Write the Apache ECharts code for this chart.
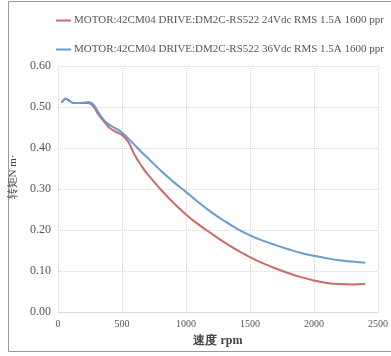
<!DOCTYPE html>
<html><head><meta charset="utf-8">
<script src="https://cdn.jsdelivr.net/npm/echarts@6/dist/echarts.min.js"></script>
<style>html,body{margin:0;padding:0;background:#fff}#c{width:391px;height:356px}</style>
</head><body><div id="c"></div>
<script>
const rpm = [30, 60, 90, 120, 180, 240, 280, 320, 360, 400, 450, 500, 550, 600, 650, 700, 800, 900, 1000, 1100, 1200, 1300, 1400, 1500, 1600, 1700, 1800, 1900, 2000, 2100, 2200, 2300, 2400];
const torque24 = [0.51, 0.52, 0.515, 0.51, 0.51, 0.51, 0.50, 0.48, 0.465, 0.45, 0.44, 0.432, 0.415, 0.383, 0.358, 0.336, 0.300, 0.267, 0.238, 0.213, 0.191, 0.170, 0.151, 0.134, 0.119, 0.106, 0.095, 0.085, 0.077, 0.071, 0.068, 0.067, 0.068];
const torque36 = [0.51, 0.52, 0.515, 0.51, 0.51, 0.512, 0.505, 0.485, 0.468, 0.457, 0.448, 0.438, 0.423, 0.407, 0.391, 0.376, 0.346, 0.318, 0.293, 0.267, 0.243, 0.222, 0.203, 0.187, 0.174, 0.163, 0.153, 0.144, 0.137, 0.131, 0.126, 0.123, 0.120];
const seriesNames = ['MOTOR:42CM04 DRIVE:DM2C-RS522 24Vdc RMS 1.5A 1600 ppr', 'MOTOR:42CM04 DRIVE:DM2C-RS522 36Vdc RMS 1.5A 1600 ppr'];
const xTitle = '速度 rpm';
const yTitle = '转矩N m·';

const font = "'Liberation Serif', 'DejaVu Serif', serif";
const chart = echarts.init(document.getElementById('c'));
const mk = arr => rpm.map((x, i) => [x, arr[i]]);
chart.setOption({
  animation: false,
  graphic: [{type: 'rect', shape: {x: 8.5, y: 1.5, width: 400, height: 350}, style: {fill: 'none', stroke: '#9a9a9a', lineWidth: 1}}],
  legend: {
    orient: 'vertical', left: 51, top: 10, itemGap: 18, itemWidth: 15, itemHeight: 2,
    icon: 'rect', itemStyle: {borderWidth: 0},
    textStyle: {fontFamily: font, fontSize: 11, color: '#555', padding: [0, 0, 0, -2]},
    data: seriesNames
  },
  grid: {left: 57, right: 12, top: 66, bottom: 44},
  xAxis: {
    type: 'value', min: 0, max: 2500, interval: 500,
    name: xTitle, nameLocation: 'middle', nameGap: 23,
    nameTextStyle: {fontFamily: font, fontSize: 12, fontWeight: 'bold', color: '#444'},
    axisLine: {show: true, lineStyle: {color: '#d9d9d9'}},
    axisTick: {show: false},
    axisLabel: {fontFamily: font, fontSize: 10, color: '#555', margin: 7, formatter: v => String(v)},
    splitLine: {show: true, lineStyle: {color: '#d6d6d6', type: 'dotted'}}
  },
  yAxis: {
    type: 'value', min: 0, max: 0.6, interval: 0.1,
    name: yTitle, nameLocation: 'middle', nameGap: 38, nameRotate: 90,
    nameTextStyle: {fontFamily: font, fontSize: 11, color: '#444', padding: [0, 0, 0, 24]},
    axisLine: {show: false},
    axisTick: {show: false},
    axisLabel: {fontFamily: font, fontSize: 12, color: '#555', margin: 7, formatter: v => v.toFixed(2)},
    splitLine: {show: true, lineStyle: {color: '#d6d6d6', type: 'dotted'}}
  },
  series: [
    {name: seriesNames[0], type: 'line', data: mk(torque24), smooth: 0.4, showSymbol: false, lineStyle: {width: 2, color: '#c96b6b'}, itemStyle: {color: '#c96b6b'}},
    {name: seriesNames[1], type: 'line', data: mk(torque36), smooth: 0.4, showSymbol: false, lineStyle: {width: 2, color: '#6a9bcf'}, itemStyle: {color: '#6a9bcf'}}
  ]
});
</script></body></html>
